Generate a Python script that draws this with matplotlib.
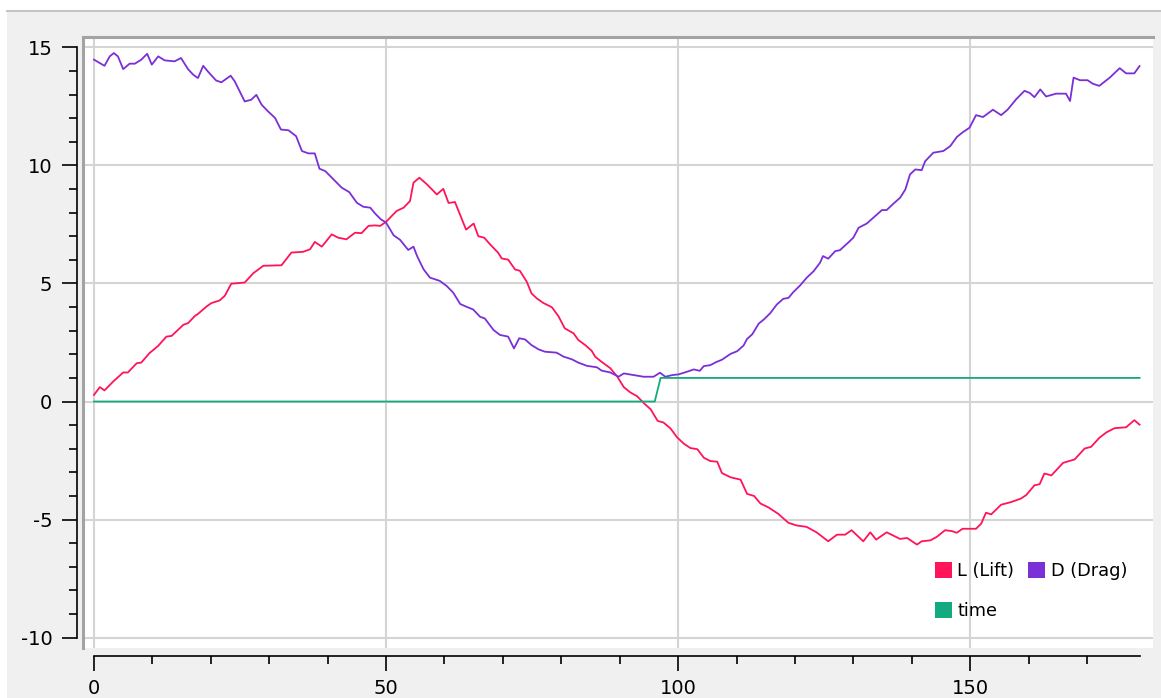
import matplotlib
matplotlib.use("Agg")
import matplotlib.pyplot as plt
from matplotlib.lines import Line2D
from matplotlib.patches import Patch, Rectangle
from matplotlib.ticker import FixedLocator

plt.rcParams.update({
    "font.family": "DejaVu Sans",
    "font.size": 14,
    "axes.unicode_minus": False
})

# values (time step, value)
lift_t = [0, 1.0, 1.8, 3.3, 5.0, 5.8, 7.3, 8.1, 9.5, 11.0, 12.4, 13.3, 15.3, 16.1,
          17.3, 17.8, 19.3, 20.1, 21.5, 22.4, 23.5, 25.8, 27.3, 29.0, 32.1, 33.8,
          35.8, 37.0, 37.8, 39.0, 40.7, 41.8, 43.2, 44.7, 45.8, 47.0, 48.1, 49.0,
          50.0, 51.8, 53.0, 54.1, 54.7, 55.7, 57.0, 58.7, 59.8, 60.7, 61.8, 62.7,
          63.7, 65.0, 65.8, 66.8, 67.8, 69.2, 69.8, 70.9, 72.1, 72.9, 74.1, 74.9,
          75.8, 76.9, 78.4, 79.5, 80.6, 82.1, 82.9, 84.1, 85.2, 85.8, 86.8, 88.4,
          89.6, 90.7, 91.8, 93.0, 94.1, 95.3, 96.5, 97.5, 98.7, 99.8, 101.0, 102.1,
          103.3, 104.4, 105.5, 106.7, 107.5, 109.0, 110.7, 111.8, 113.0, 114.1,
          115.5, 117.1, 118.9, 120.3, 122.0, 123.7, 125.7, 127.2, 128.6, 129.7,
          131.7, 132.9, 133.9, 135.7, 138.0, 139.2, 140.9, 141.7, 143.2, 144.3,
          145.7, 146.9, 147.7, 148.7, 151.0, 151.9, 152.7, 153.6, 155.3, 157.0,
          158.7, 159.6, 161.0, 161.9, 162.7, 163.9, 165.9, 167.9, 169.6, 170.7,
          172.1, 173.3, 174.7, 176.7, 178.1, 179.0]
lift_v = [0.28, 0.61, 0.47, 0.85, 1.23, 1.23, 1.62, 1.65, 2.05, 2.36, 2.75, 2.78,
          3.25, 3.32, 3.63, 3.71, 4.03, 4.17, 4.28, 4.48, 4.99, 5.04, 5.44, 5.75,
          5.77, 6.31, 6.34, 6.45, 6.76, 6.56, 7.08, 6.94, 6.87, 7.15, 7.13, 7.44,
          7.46, 7.44, 7.61, 8.07, 8.21, 8.49, 9.27, 9.48, 9.20, 8.77, 9.01, 8.41,
          8.45, 7.89, 7.28, 7.54, 7.00, 6.94, 6.66, 6.30, 6.06, 6.01, 5.59, 5.54,
          5.07, 4.58, 4.37, 4.18, 3.99, 3.62, 3.10, 2.89, 2.61, 2.39, 2.15, 1.90,
          1.70, 1.41, 1.05, 0.61, 0.39, 0.22, -0.06, -0.33, -0.82, -0.89, -1.14,
          -1.51, -1.79, -1.97, -2.02, -2.38, -2.52, -2.55, -3.03, -3.21, -3.31,
          -3.91, -4.00, -4.32, -4.49, -4.75, -5.14, -5.25, -5.31, -5.54, -5.92,
          -5.64, -5.64, -5.45, -5.92, -5.54, -5.85, -5.54, -5.82, -5.78, -6.06,
          -5.92, -5.88, -5.73, -5.45, -5.49, -5.56, -5.39, -5.39, -5.17, -4.71,
          -4.78, -4.37, -4.26, -4.11, -3.96, -3.55, -3.50, -3.05, -3.13, -2.60,
          -2.45, -1.99, -1.92, -1.54, -1.31, -1.13, -1.09, -0.79, -0.98]

drag_t = [0, 1.8, 2.7, 3.4, 4.1, 5.0, 6.1, 7.0, 8.1, 9.1, 9.9, 11.0, 12.1, 13.8,
          14.9, 16.1, 17.0, 17.8, 18.7, 19.5, 20.9, 21.8, 23.4, 24.1, 25.8, 26.9,
          27.8, 28.7, 29.8, 31.0, 32.0, 33.3, 34.6, 35.6, 36.7, 37.8, 38.6, 39.6,
          41.0, 42.4, 43.7, 45.0, 46.1, 47.3, 48.1, 49.1, 50.0, 51.3, 52.4, 53.8,
          54.7, 55.3, 56.4, 57.5, 59.2, 60.4, 61.5, 62.7, 63.8, 64.9, 66.1, 66.9,
          68.4, 69.5, 70.9, 71.9, 72.8, 73.8, 74.9, 76.1, 77.2, 79.2, 80.4, 81.8,
          82.9, 84.4, 86.1, 86.9, 88.4, 89.8, 90.7, 92.4, 94.1, 95.8, 96.9, 97.8,
          99.0, 100.1, 101.5, 102.7, 103.7, 104.4, 105.5, 106.6, 107.5, 109.0,
          110.1, 111.2, 111.8, 112.7, 113.8, 114.7, 115.8, 116.9, 118.0, 118.9,
          119.7, 120.9, 122.0, 123.2, 124.3, 124.8, 125.7, 126.9, 127.7, 129.2,
          130.0, 130.9, 132.3, 133.4, 134.9, 135.7, 136.9, 138.0, 138.9, 139.7,
          140.6, 141.7, 142.3, 143.7, 145.4, 146.6, 147.7, 148.7, 149.9, 151.0,
          152.2, 153.9, 155.3, 156.4, 157.9, 159.3, 160.2, 161.0, 162.0, 163.0,
          164.7, 166.4, 167.1, 167.7, 168.8, 170.1, 171.0, 172.1, 173.9, 175.6,
          176.7, 178.1, 179.0]
drag_v = [14.48, 14.22, 14.62, 14.76, 14.62, 14.08, 14.31, 14.31, 14.48, 14.73,
          14.27, 14.62, 14.45, 14.41, 14.55, 14.08, 13.84, 13.70, 14.22, 13.98,
          13.60, 13.52, 13.80, 13.56, 12.71, 12.78, 12.99, 12.57, 12.29, 12.01,
          11.52, 11.49, 11.24, 10.61, 10.51, 10.51, 9.86, 9.76, 9.41, 9.06, 8.87,
          8.42, 8.25, 8.21, 7.97, 7.72, 7.58, 7.04, 6.85, 6.42, 6.56, 6.17, 5.61,
          5.25, 5.11, 4.89, 4.61, 4.13, 4.01, 3.90, 3.59, 3.52, 3.03, 2.82, 2.75,
          2.25, 2.68, 2.63, 2.39, 2.21, 2.11, 2.07, 1.90, 1.79, 1.65, 1.51, 1.45,
          1.31, 1.23, 1.05, 1.19, 1.12, 1.05, 1.05, 1.22, 1.05, 1.12, 1.15, 1.26,
          1.36, 1.30, 1.50, 1.54, 1.68, 1.77, 2.02, 2.13, 2.37, 2.65, 2.85, 3.30,
          3.48, 3.75, 4.11, 4.35, 4.39, 4.63, 4.92, 5.24, 5.52, 5.88, 6.16, 6.05,
          6.37, 6.41, 6.75, 6.94, 7.36, 7.54, 7.78, 8.11, 8.11, 8.39, 8.63, 8.98,
          9.62, 9.83, 9.80, 10.18, 10.54, 10.61, 10.82, 11.20, 11.40, 11.60, 12.13,
          12.05, 12.36, 12.13, 12.36, 12.81, 13.16, 13.07, 12.89, 13.22, 12.92,
          13.04, 13.04, 12.73, 13.72, 13.61, 13.61, 13.46, 13.37, 13.72, 14.12,
          13.90, 13.90, 14.21]

time_t = [0, 96, 97, 179]
time_v = [0, 0, 1, 1]

labels = ["L (Lift)", "D (Drag)", "time"]
colors = ["#ff1459", "#7b2fd6", "#12aa7e"]

W, H = 1161, 698


def main():
    fig = plt.figure(figsize=(W / 100, H / 100), dpi=100, facecolor="white")

    # window background
    fig.add_artist(Rectangle((7 / W, 0), 1, 1 - 11 / H, transform=fig.transFigure,
                             facecolor="#f0f0f0", edgecolor="none", zorder=-10))
    fig.add_artist(Line2D([7 / W, 1], [1 - 11 / H, 1 - 11 / H], transform=fig.transFigure,
                          color="#c4c4c4", lw=1.5, zorder=-9))

    ax = fig.add_axes([83 / W, 1 - 648 / H, 1070 / W, 611 / H])
    ax.set_facecolor("white")

    ax.plot(lift_t, lift_v, color=colors[0], lw=1.3, zorder=3)
    ax.plot(drag_t, drag_v, color=colors[1], lw=1.3, zorder=3)
    ax.plot(time_t, time_v, color=colors[2], lw=1.3, zorder=3)

    ax.set_xlim(-1.88, 181.3)
    ax.set_ylim(-10.44, 15.44)

    ax.xaxis.set_major_locator(FixedLocator([0, 50, 100, 150]))
    ax.xaxis.set_minor_locator(FixedLocator(list(range(0, 180, 10))))
    ax.yaxis.set_major_locator(FixedLocator([-10, -5, 0, 5, 10, 15]))
    ax.yaxis.set_minor_locator(FixedLocator(list(range(-10, 16))))

    ax.grid(True, which="major", color="#d4d4d4", lw=1.5)
    ax.set_axisbelow(True)

    for s in ["top", "right"]:
        ax.spines[s].set_visible(False)
    ax.spines["left"].set_position(("outward", 4.3))
    ax.spines["bottom"].set_position(("outward", 5.8))
    ax.spines["left"].set_bounds(-10, 15)
    ax.spines["bottom"].set_bounds(0, 179)
    for s in ["left", "bottom"]:
        ax.spines[s].set_linewidth(1.2)
        ax.spines[s].set_color("black")

    ax.tick_params(which="major", length=10.8, width=1.2, direction="out", color="black")
    ax.tick_params(which="minor", length=5.8, width=1.2, direction="out", color="black")
    ax.tick_params(axis="y", which="major", pad=7)
    ax.tick_params(axis="x", which="major", pad=6)

    # sunken frame on top and left of the panel
    ax.plot([0, 0, 1], [0, 1, 1], transform=ax.transAxes, color="#a3a3a3", lw=2.2,
            clip_on=False, solid_joinstyle="miter", zorder=5)

    handles = [Patch(facecolor=colors[0]), Patch(facecolor=colors[2]), Patch(facecolor=colors[1])]
    fig.legend(handles, [labels[0], labels[2], labels[1]], ncol=2, frameon=False,
               loc="upper left", bbox_to_anchor=(935 / W, 1 - 562 / H),
               bbox_transform=fig.transFigure, fontsize=12.8,
               handlelength=0.95, handleheight=0.95, handletextpad=0.3,
               columnspacing=0.8, labelspacing=1.25, borderpad=0, borderaxespad=0)

    fig.savefig("out.png", dpi=100)


if __name__ == "__main__":
    main()
